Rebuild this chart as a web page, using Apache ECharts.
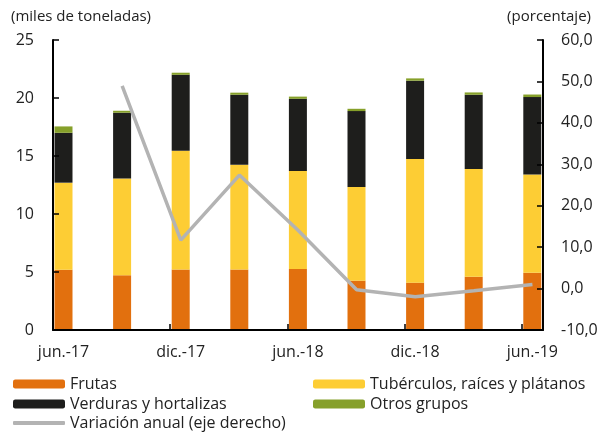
<!DOCTYPE html>
<html lang="es">
<head>
<meta charset="utf-8" />
<title>Volumen de alimentos</title>
<script src="https://cdn.jsdelivr.net/npm/echarts@6/dist/echarts.min.js"></script>
<style>
  html, body { margin: 0; padding: 0; background: #fff; }
  #main { width: 602px; height: 435px; }
</style>
</head>
<body>
<div id="main"></div>
<script>
// trimestres jun-17 .. jun-19
var periodos = ['jun.-17', 'sep.-17', 'dic.-17', 'mar.-18', 'jun.-18', 'sep.-18', 'dic.-18', 'mar.-19', 'jun.-19'];
// miles de toneladas
var frutas     = [5.2, 4.72, 5.21, 5.21, 5.26, 4.25, 4.08, 4.6, 4.94];
var tuberculos = [7.5, 8.35, 10.25, 9.04, 8.45, 8.08, 10.67, 9.28, 8.46];
var verduras   = [4.3, 5.66, 6.54, 6.03, 6.22, 6.54, 6.74, 6.4, 6.68];
var otros      = [0.55, 0.17, 0.18, 0.18, 0.19, 0.2, 0.2, 0.2, 0.22];
// variacion anual, porcentaje (eje derecho)
var variacion  = [null, 48.9, 11.7, 27.4, 14.1, -0.3, -1.95, -0.5, 1.0];

var fuente = '"Open Sans", Lato, sans-serif';
var colores = { frutas: '#e2700e', tub: '#fdcd34', verd: '#1e1e1c', otros: '#86a02a', linea: '#b3b3b3' };

// line drawn on the value x axis, points at the bar centres
function pares(arr) {
  var out = [];
  for (var i = 0; i < arr.length; i++) {
    if (arr[i] !== null) out.push([i, arr[i]]);
  }
  return out;
}

function barra(nombre, datos, color) {
  return {
    name: nombre,
    type: 'bar',
    stack: 'total',
    xAxisIndex: 1,
    yAxisIndex: 2,
    barWidth: 18,
    data: datos,
    itemStyle: { color: color },
    emphasis: { disabled: true }
  };
}

function leyenda(nombre, left, top, extra) {
  var l = {
    left: left, top: top, padding: 0,
    itemWidth: 52, itemHeight: 9,
    selectedMode: false,
    textStyle: { fontSize: 16, color: '#222', fontFamily: fuente, lineHeight: 20 },
    data: [nombre]
  };
  if (extra) {
    for (var k in extra) l[k] = extra[k];
  }
  return l;
}

var ejeLinea = { show: true, onZero: false, lineStyle: { color: '#000', width: 2 } };
var ejeTick = { show: true, inside: true, length: 6, lineStyle: { color: '#000', width: 1.5 } };

var chart = echarts.init(document.getElementById('main'), null, { renderer: 'canvas' });

var option = {
  animation: false,
  textStyle: { fontFamily: fuente },
  grid: [
    // axes frame
    { left: 53, right: 59, top: 40, bottom: 105 },
    // bars: 9 bands of the same width as the bar spacing
    { left: 34.2, right: 40.4, top: 40, bottom: 105 }
  ],
  xAxis: [
    {
      type: 'value',
      gridIndex: 0,
      min: -0.18,
      max: 8.18,
      interval: 2,
      z: 10,
      splitLine: { show: false },
      axisLine: ejeLinea,
      axisTick: ejeTick,
      axisLabel: { show: false }
    },
    {
      type: 'category',
      gridIndex: 1,
      data: periodos,
      axisLine: { show: false },
      axisTick: { show: false },
      axisLabel: { interval: 1, margin: 14, fontSize: 16, color: '#222', fontFamily: fuente }
    }
  ],
  yAxis: [
    {
      type: 'value',
      gridIndex: 0,
      position: 'left',
      min: 0, max: 25, interval: 5,
      z: 10,
      splitLine: { show: false },
      axisLine: ejeLinea,
      axisTick: ejeTick,
      axisLabel: { margin: 19, fontSize: 16, color: '#222', fontFamily: fuente }
    },
    {
      type: 'value',
      gridIndex: 0,
      position: 'right',
      min: -10, max: 60, interval: 10,
      z: 10,
      splitLine: { show: false },
      axisLine: ejeLinea,
      axisTick: ejeTick,
      axisLabel: {
        margin: 18, fontSize: 16, color: '#222', fontFamily: fuente,
        formatter: function (v) { return v.toFixed(1).replace('.', ','); }
      }
    },
    {
      type: 'value',
      gridIndex: 1,
      min: 0, max: 25,
      show: false
    }
  ],
  legend: [
    leyenda('Frutas', 13, 374),
    leyenda('Tubérculos, raíces y plátanos', 313, 374),
    leyenda('Verduras y hortalizas', 13, 394),
    leyenda('Otros grupos', 313, 394),
    leyenda('Variación anual (eje derecho)', 13, 413, { itemHeight: 4, icon: 'roundRect' })
  ],
  graphic: [
    { type: 'text', left: 11, top: 9, style: { text: '(miles de toneladas)', font: '15px ' + fuente, fill: '#222' } },
    { type: 'text', right: 11, top: 9, style: { text: '(porcentaje)', font: '15px ' + fuente, fill: '#222' } }
  ],
  series: [
    barra('Frutas', frutas, colores.frutas),
    barra('Tubérculos, raíces y plátanos', tuberculos, colores.tub),
    barra('Verduras y hortalizas', verduras, colores.verd),
    barra('Otros grupos', otros, colores.otros),
    {
      name: 'Variación anual (eje derecho)',
      type: 'line',
      xAxisIndex: 0,
      yAxisIndex: 1,
      data: pares(variacion),
      symbol: 'none',
      lineStyle: { color: colores.linea, width: 3.5 },
      itemStyle: { color: colores.linea },
      emphasis: { disabled: true }
    }
  ]
};

chart.setOption(option);
</script>
</body>
</html>
